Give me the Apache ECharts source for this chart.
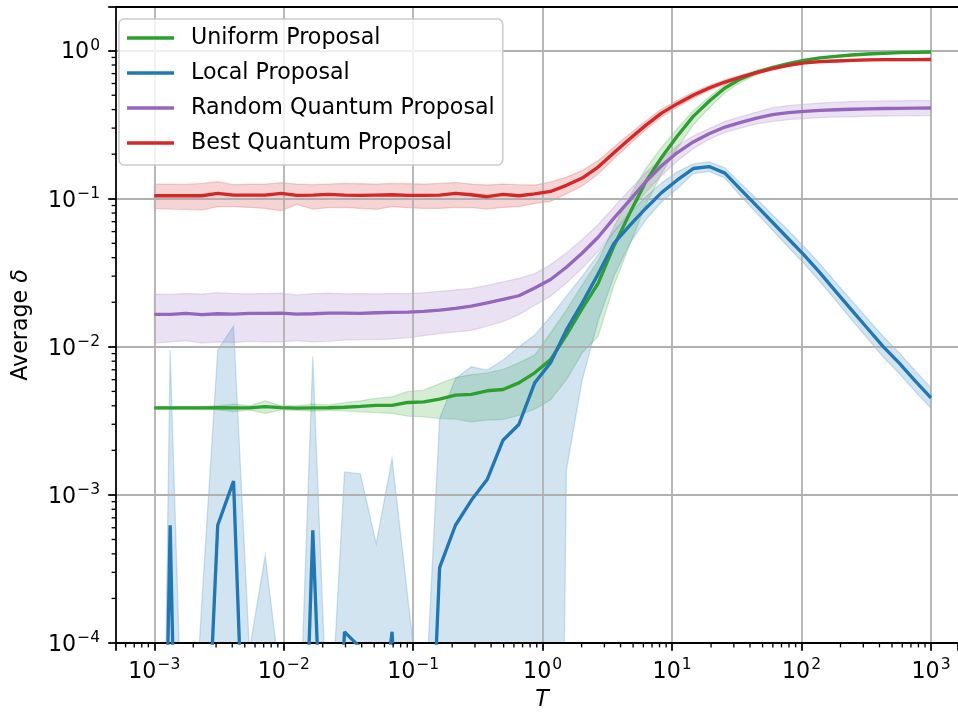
<!DOCTYPE html>
<html><head><meta charset="utf-8">
<script src="https://cdn.jsdelivr.net/npm/echarts@6/dist/echarts.min.js"></script>
<style>html,body{margin:0;padding:0;background:#fff}#c{width:958px;height:712px}</style>
</head><body><div id="c"></div>
<script>
// ---- data ----
const T = [0.001,0.0013257,0.0017575,0.00233,0.0030888,0.0040949,0.0054287,0.0071969,0.009541,0.012649,
  0.016768,0.02223,0.029471,0.039069,0.051795,0.068665,0.09103,0.12068,0.15999,0.2121,
  0.28118,0.37276,0.49417,0.65513,0.86851,1.1514,1.5264,2.0236,2.6827,3.5565,
  4.7149,6.2506,8.2864,10.985,14.563,19.307,25.595,33.932,44.984,59.636,
  79.06,104.81,138.95,184.21,244.21,323.75,429.19,568.99,754.31,1000];

const uniform = [0.00387,0.00387,0.00387,0.00387,0.00388,0.00387,0.00387,0.00395,0.00389,0.00386,
  0.00387,0.00388,0.00391,0.00396,0.00402,0.00402,0.00421,0.00425,0.00443,0.00472,
  0.00477,0.00505,0.00515,0.00571,0.00668,0.0082,0.012,0.0182,0.0268,0.048,
  0.08,0.13,0.19,0.265,0.36,0.455,0.56,0.645,0.715,0.768,
  0.817,0.861,0.893,0.916,0.935,0.95,0.96,0.97,0.975,0.98];
const uniformLo = [0.00379,0.00379,0.00379,0.00379,0.00375,0.00366,0.00375,0.00355,0.00375,0.00372,
  0.00368,0.00373,0.0037,0.00364,0.0036,0.00355,0.0034,0.00337,0.00328,0.00325,
  0.00311,0.0032,0.00323,0.00345,0.0038,0.0044,0.006,0.0091,0.0118,0.026,
  0.049,0.09,0.148,0.22,0.315,0.41,0.518,0.612,0.688,0.75,
  0.80,0.847,0.881,0.905,0.925,0.942,0.952,0.963,0.968,0.973];
const uniformHi = [0.00395,0.00395,0.00395,0.00395,0.004,0.0041,0.004,0.00432,0.004,0.004,
  0.0041,0.00405,0.0042,0.00432,0.0045,0.0046,0.005,0.0051,0.00565,0.0062,
  0.0065,0.00667,0.00703,0.0078,0.0088,0.0124,0.0177,0.0262,0.038,0.065,
  0.104,0.16,0.222,0.298,0.393,0.487,0.593,0.675,0.74,0.787,
  0.835,0.875,0.905,0.927,0.945,0.958,0.968,0.977,0.982,0.987];

const local = [1e-9,6.24e-4,6e-9,2.5e-6,6.24e-4,1.24e-3,1.3e-6,1e-7,1e-7,3e-7,
  5.77e-4,1e-6,1.19e-4,9.3e-5,1.4e-5,1.19e-4,1e-6,9e-7,3.23e-4,6.24e-4,
  9.2e-4,1.27e-3,2.34e-3,2.99e-3,5.71e-3,7.8e-3,0.013,0.0198,0.031,0.05,
  0.066,0.086,0.11,0.134,0.16,0.165,0.149,0.1153,0.0895,0.0694,
  0.0537,0.0416,0.0316,0.0236,0.0177,0.0133,0.01,0.00776,0.00589,0.00452];
const localLo = [1e-12,1e-12,1e-12,1e-12,1e-12,1e-12,1e-12,1e-12,1e-12,1e-12,
  1e-12,1e-12,1e-12,1e-12,1e-12,1e-12,1e-12,1e-12,1e-12,1e-12,
  1e-12,1e-12,1e-12,1e-12,1e-12,1e-12,1.47e-3,0.006,0.015,0.03,
  0.05,0.072,0.095,0.117,0.148,0.153,0.138,0.104,0.08,0.0615,
  0.047,0.0364,0.0275,0.0205,0.0152,0.0114,0.0085,0.0066,0.005,0.00385];
const localHi = [3e-10,9.5e-3,3e-6,1.9e-4,9.5e-3,0.0138,9e-5,3.9e-4,5e-5,8e-6,
  8.6e-3,1.6e-5,1.43e-3,1.39e-3,4.69e-4,1.76e-3,2e-4,2.4e-5,3.28e-3,6.1e-3,
  7.33e-3,6.96e-3,8.13e-3,0.01,0.012,0.016,0.022,0.03,0.042,0.06,
  0.08,0.103,0.128,0.152,0.172,0.178,0.162,0.127,0.1,0.078,
  0.061,0.0475,0.0362,0.0272,0.0205,0.0155,0.0117,0.0091,0.0069,0.0053];

const randomQ = [0.01655,0.01655,0.01681,0.01648,0.01672,0.01664,0.01681,0.01681,0.0169,0.01664,
  0.01672,0.0169,0.0169,0.01681,0.01698,0.01707,0.01716,0.01734,0.0177,0.01816,
  0.01884,0.01984,0.0209,0.02213,0.025,0.0285,0.0345,0.043,0.055,0.074,
  0.098,0.13,0.167,0.205,0.242,0.275,0.305,0.328,0.35,0.37,
  0.382,0.389,0.395,0.399,0.402,0.405,0.407,0.408,0.409,0.41];
const randomQLo = [0.0106,0.0108,0.011,0.0106,0.0108,0.0107,0.0109,0.0108,0.0108,0.011,
  0.0108,0.0109,0.0111,0.0112,0.0112,0.0113,0.0115,0.0119,0.0123,0.0126,
  0.0129,0.0138,0.0148,0.0165,0.0191,0.022,0.027,0.034,0.044,0.06,
  0.082,0.11,0.143,0.18,0.218,0.252,0.281,0.3,0.32,0.332,
  0.342,0.348,0.353,0.356,0.358,0.36,0.362,0.363,0.364,0.365];
const randomQHi = [0.0227,0.0226,0.0229,0.0227,0.0232,0.0229,0.0228,0.0229,0.023,0.0224,
  0.0229,0.023,0.0228,0.0229,0.0228,0.0229,0.0229,0.0232,0.0237,0.0242,
  0.0248,0.026,0.0275,0.029,0.0312,0.036,0.043,0.053,0.067,0.088,
  0.115,0.15,0.188,0.228,0.265,0.298,0.332,0.358,0.385,0.412,
  0.426,0.435,0.443,0.449,0.453,0.456,0.458,0.459,0.46,0.461];

const bestQ = [0.1048,0.1048,0.1048,0.1048,0.1087,0.1059,0.1059,0.1059,0.1087,0.1054,
  0.1059,0.107,0.1059,0.1054,0.1059,0.1064,0.1054,0.1054,0.1059,0.1087,
  0.1064,0.1032,0.107,0.1048,0.108,0.112,0.1232,0.138,0.1637,0.2046,
  0.254,0.313,0.379,0.4385,0.5,0.56,0.614,0.664,0.71,0.756,
  0.797,0.826,0.843,0.852,0.861,0.866,0.869,0.87,0.871,0.872];
const bestQLo = [0.0861,0.0852,0.0848,0.0839,0.0884,0.0884,0.0874,0.0861,0.083,0.0916,
  0.0852,0.087,0.0874,0.0861,0.0848,0.0884,0.087,0.0861,0.0861,0.0874,
  0.087,0.0852,0.0874,0.0884,0.093,0.096,0.108,0.122,0.147,0.186,
  0.234,0.292,0.357,0.417,0.478,0.539,0.594,0.645,0.693,0.74,
  0.783,0.812,0.829,0.838,0.848,0.853,0.856,0.857,0.858,0.859];
const bestQHi = [0.1257,0.1257,0.125,0.127,0.1303,0.1244,0.1257,0.1257,0.1283,0.1257,
  0.1244,0.1257,0.127,0.1263,0.1257,0.127,0.1263,0.1257,0.127,0.129,
  0.1257,0.1238,0.1257,0.1244,0.1238,0.13,0.14,0.155,0.181,0.224,
  0.275,0.335,0.402,0.462,0.523,0.582,0.635,0.683,0.728,0.772,
  0.811,0.84,0.857,0.866,0.874,0.879,0.882,0.883,0.884,0.885];

const seriesNames = ['Uniform Proposal','Local Proposal','Random Quantum Proposal','Best Quantum Proposal'];
const xTickExps = [-3,-2,-1,0,1,2,3];
const yTickExps = [-4,-3,-2,-1,0];
const minorMultipliers = [2,3,4,5,6,7,8,9];

// ---- layout / style ----
const X_MIN = 5.06e-4, X_MAX = 1617, Y_MIN = 1e-4, Y_MAX = 1.972;
const FONT = 'DejaVu Sans';
const COLORS = ['#2ca02c','#1f77b4','#9467bd','#d62728'];
function rgba(hex,a){const n=parseInt(hex.slice(1),16);return 'rgba('+(n>>16)+','+((n>>8)&255)+','+(n&255)+','+a+')';}

function makeFmt(exps){
  return function(v){
    const l = Math.log10(v), e = Math.round(l);
    if (Math.abs(l-e) > 1e-6 || exps.indexOf(e) < 0) return '';
    return '{b|10}{s|' + (e<0?'\u2212':'') + Math.abs(e) + '}';
  };
}
const richTick = {
  b:{fontSize:22.2,fontFamily:FONT,color:'#000',lineHeight:26,verticalAlign:'bottom'},
  s:{fontSize:15.5,fontFamily:FONT,color:'#000',verticalAlign:'top',padding:[0,0,0,1]}
};

const lines = [uniform, local, randomQ, bestQ];
const los = [uniformLo, localLo, randomQLo, bestQLo];
const his = [uniformHi, localHi, randomQHi, bestQHi];

const series = [];
for (let k=0;k<4;k++){
  const lo = los[k], hi = his[k], col = COLORS[k];
  series.push({
    type:'custom', name:'band'+k, coordinateSystem:'cartesian2d', silent:true, animation:false, z:-1,
    data:[[T[0], hi[0]]],
    renderItem:function(params, api){
      const pts = [];
      for (let i=0;i<T.length;i++) pts.push(api.coord([T[i], hi[i]]));
      for (let i=T.length-1;i>=0;i--) pts.push(api.coord([T[i], lo[i]]));
      const c = params.coordSys;
      return {type:'polygon', shape:{points:pts},
        style:{fill:rgba(col,0.2), stroke:rgba(col,0.2), lineWidth:1.3},
        clipPath:{type:'rect', shape:{x:c.x, y:c.y, width:c.width, height:c.height}}};
    }
  });
}
for (let k=0;k<4;k++){
  series.push({
    type:'line', name:seriesNames[k], data:T.map((t,i)=>[t, lines[k][i]]),
    symbol:'none', showSymbol:false, clip:true, animation:false, silent:true, z:3,
    lineStyle:{color:COLORS[k], width:3.33}, itemStyle:{color:COLORS[k]}
  });
}
// minor ticks (matplotlib-style log minor ticks)
const xMinor = [], yMinor = [];
for (let e=-4;e<=3;e++) for (const m of minorMultipliers){
  const v = m*Math.pow(10,e);
  if (v > X_MIN && v < X_MAX) xMinor.push([v, Y_MIN]);
  if (v > Y_MIN && v < Y_MAX) yMinor.push([X_MIN, v]);
}
series.push({
  type:'custom', name:'xminor', coordinateSystem:'cartesian2d', silent:true, animation:false, clip:false, z:5,
  data:xMinor,
  renderItem:function(params, api){
    const p = api.coord([api.value(0), Y_MIN]);
    return {type:'line', shape:{x1:p[0], y1:p[1], x2:p[0], y2:p[1]+4.4}, style:{stroke:'#000', lineWidth:1.33}};
  }
});
series.push({
  type:'custom', name:'yminor', coordinateSystem:'cartesian2d', silent:true, animation:false, clip:false, z:5,
  data:yMinor,
  renderItem:function(params, api){
    const p = api.coord([X_MIN, api.value(1)]);
    return {type:'line', shape:{x1:p[0], y1:p[1], x2:p[0]-4.4, y2:p[1]}, style:{stroke:'#000', lineWidth:1.33}};
  }
});

const axisLineStyle = {color:'#000', width:1.78};
const option = {
  animation:false,
  backgroundColor:'#fff',
  textStyle:{fontFamily:FONT},
  grid:{left:116, right:0, top:7, bottom:69, containLabel:false, outerBoundsMode:'none'},
  legend:{
    data:seriesNames.map((n,k)=>({name:n, icon:'rect', itemStyle:{color:COLORS[k]}})),
    orient:'vertical', left:119, top:19,
    itemWidth:47, itemHeight:3.33, itemGap:10, padding:[6.5,8,9.5,8],
    backgroundColor:'rgba(255,255,255,0.8)', borderColor:'#cccccc', borderWidth:1.6, borderRadius:5,
    selectedMode:false,
    textStyle:{fontSize:22.2, fontFamily:FONT, color:'#000', lineHeight:25, padding:[0,0,0,12]}
  },
  xAxis:[{
    type:'log', logBase:10, min:X_MIN, max:X_MAX,
    name:'T', nameLocation:'middle', nameGap:46,
    nameTextStyle:{fontSize:22.2, fontFamily:FONT, fontStyle:'italic', color:'#000', padding:[0,0,0,10]},
    axisLine:{show:true, onZero:false, lineStyle:axisLineStyle},
    axisTick:{show:true, inside:false, length:7.8, lineStyle:{color:'#000', width:1.78}},
    axisLabel:{show:true, margin:14, formatter:makeFmt(xTickExps), rich:richTick},
    splitLine:{show:true, showMinLine:false, showMaxLine:false, lineStyle:{color:'#b0b0b0', width:1.78}},
    minorTick:{show:false}
  },{
    type:'log', logBase:10, min:X_MIN, max:X_MAX, position:'top',
    axisLine:{show:true, onZero:false, lineStyle:axisLineStyle},
    axisTick:{show:false}, axisLabel:{show:false}, splitLine:{show:false}
  }],
  yAxis:{
    type:'log', logBase:10, min:Y_MIN, max:Y_MAX,
    name:'Average {i|\u03b4}', nameLocation:'middle', nameGap:84, nameRotate:90,
    nameTextStyle:{fontSize:22.2, fontFamily:FONT, color:'#000',
      rich:{i:{fontSize:22.2, fontFamily:FONT, fontStyle:'italic', color:'#000'}}},
    axisLine:{show:true, onZero:false, lineStyle:axisLineStyle},
    axisTick:{show:true, inside:false, length:7.8, lineStyle:{color:'#000', width:1.78}},
    axisLabel:{show:true, margin:16, formatter:makeFmt(yTickExps), rich:richTick},
    splitLine:{show:true, showMinLine:false, showMaxLine:false, lineStyle:{color:'#b0b0b0', width:1.78}}
  },
  series:series
};
const chart = echarts.init(document.getElementById('c'), null, {renderer:'canvas', width:958, height:712});
chart.setOption(option);
</script>
</body></html>
